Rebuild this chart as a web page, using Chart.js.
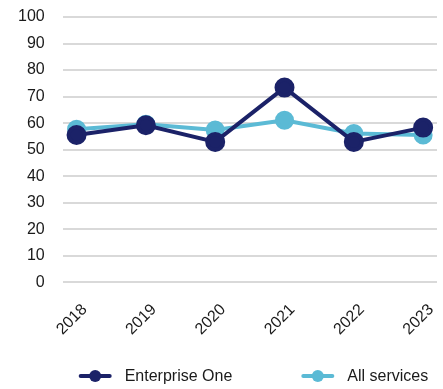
<!DOCTYPE html>
<html><head><meta charset="utf-8">
<script src="https://cdn.jsdelivr.net/npm/chart.js@4.4.0/dist/chart.umd.min.js"></script>
<style>html,body{margin:0;padding:0;background:#fff;}#wrap{width:443px;height:389px;}</style>
</head><body><div id="wrap"><canvas id="c" width="443" height="389"></canvas></div>
<script>
const years = ['2018','2019','2020','2021','2022','2023'];
const enterpriseOne = [55.5, 59.2, 52.9, 73.4, 52.9, 58.3];
const allServices = [57.7, 59.6, 57.4, 61.1, 56.1, 55.5];
const yTicks = [0,10,20,30,40,50,60,70,80,90,100];

const navy = '#1b2268';
const sky = '#5bbad5';
const FONT = '"Liberation Sans", Arial, sans-serif';

Chart.defaults.font.family = FONT;
Chart.defaults.font.size = 16;
Chart.defaults.color = '#1a1a1a';

const bottomLegend = {
  id: 'bottomLegend',
  afterDraw(chart) {
    const ctx = chart.ctx;
    const items = [
      { text: chart.data.datasets[1].label, color: chart.data.datasets[1].borderColor },
      { text: chart.data.datasets[0].label, color: chart.data.datasets[0].borderColor }
    ];
    const markerW = 33, textGap = 13, itemGap = 69;
    ctx.save();
    ctx.font = '16px ' + FONT;
    const widths = items.map(it => markerW + textGap + ctx.measureText(it.text).width);
    const ca = chart.chartArea;
    let x = ca.left + 16;
    const y = 376;
    items.forEach((it, i) => {
      ctx.strokeStyle = it.color; ctx.lineWidth = 4; ctx.lineCap = 'round';
      ctx.beginPath(); ctx.moveTo(x + 2, y); ctx.lineTo(x + markerW - 2, y); ctx.stroke();
      ctx.fillStyle = it.color;
      ctx.beginPath(); ctx.arc(x + markerW / 2, y, 6, 0, Math.PI * 2); ctx.fill();
      ctx.fillStyle = '#1a1a1a'; ctx.textAlign = 'left'; ctx.textBaseline = 'middle';
      ctx.fillText(it.text, x + markerW + textGap, y + 1);
      x += widths[i] + itemGap;
    });
    ctx.restore();
  }
};

new Chart(document.getElementById('c'), {
  type: 'line',
  data: {
    datasets: [
      { label: 'All services', data: allServices.map((v,i)=>({x:i,y:v})), borderColor: sky, backgroundColor: sky,
        borderWidth: 4, pointRadius: 7.5, pointHoverRadius: 7.5, tension: 0, order: 2, clip: false },
      { label: 'Enterprise One', data: enterpriseOne.map((v,i)=>({x:i,y:v})), borderColor: navy, backgroundColor: navy,
        borderWidth: 4, pointRadius: 8, pointHoverRadius: 8, tension: 0, order: 1, clip: false }
    ]
  },
  options: {
    responsive: false,
    animation: false,
    layout: { autoPadding: false, padding: { top: 17, right: 6, left: 0, bottom: 40 } },
    plugins: {
      tooltip: { enabled: false },
      legend: { display: false }
    },
    scales: {
      x: {
        type: 'linear',
        min: -0.2, max: 5.2,
        grid: { display: false },
        border: { display: false },
        ticks: {
          stepSize: 1,
          includeBounds: false,
          autoSkip: false,
          minRotation: 45, maxRotation: 45,
          labelOffset: 8,
          padding: 10,
          color: '#1a1a1a',
          font: { size: 16 },
          callback: (v) => Number.isInteger(v) && years[v] !== undefined ? years[v] : ''
        },
        afterBuildTicks: (axis) => { axis.ticks = years.map((_, i) => ({ value: i })); },
        afterFit: (axis) => { axis.paddingLeft = 0; axis.paddingRight = 0; }
      },
      y: {
        min: 0, max: 100,
        grid: { color: '#d9d9d9', lineWidth: 2, drawTicks: false },
        border: { display: false },
        ticks: { stepSize: 10, padding: 18, color: '#1a1a1a', font: { size: 16 } },
        afterBuildTicks: (axis) => { axis.ticks = yTicks.map(v => ({ value: v })); },
        afterFit: (axis) => { axis.paddingTop = 0; axis.paddingBottom = 0; }
      }
    }
  },
  plugins: [bottomLegend]
});
</script></body></html>
